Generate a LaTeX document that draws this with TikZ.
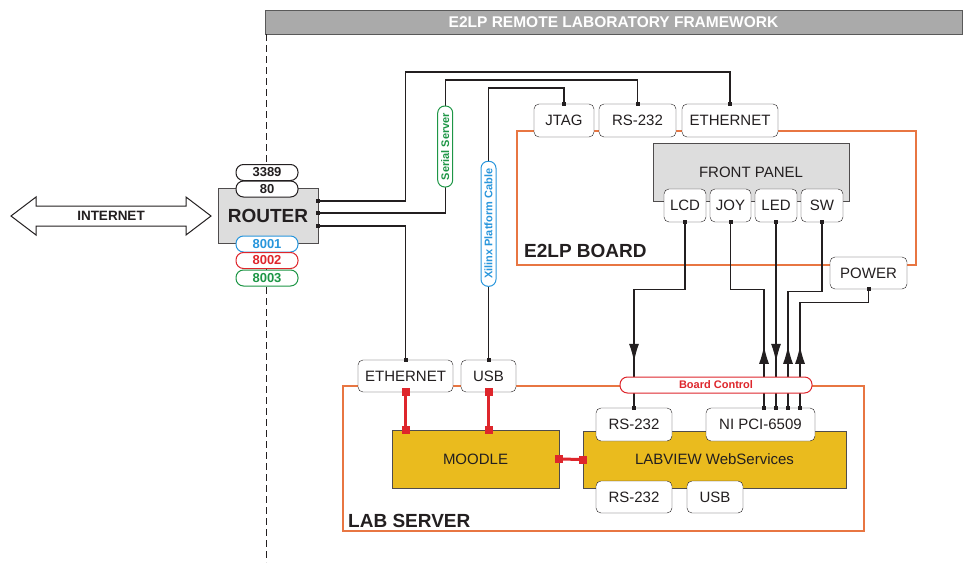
\documentclass[tikz,border=0pt]{standalone}
\usepackage{fontspec}
\setmainfont{Liberation Sans}
\usepackage{tikz}
\usetikzlibrary{positioning, arrows.meta, decorations.markings, calc}

\definecolor{LabOrange}{RGB}{232,118,66}
\definecolor{LabGold}{RGB}{234,187,30}
\definecolor{LabGray}{RGB}{221,221,221}
\definecolor{LabHeader}{RGB}{170,170,170}
\definecolor{LabInk}{RGB}{35,31,32}
\definecolor{PortBlue}{RGB}{40,150,220}
\definecolor{PortRed}{RGB}{222,38,44}
\definecolor{PortGreen}{RGB}{30,150,70}

\newcommand{\pxfont}[1]{\fontsize{#1}{#1}\selectfont}

\begin{document}
\begin{tikzpicture}[x=1pt, y=-1pt,
  box/.style={rectangle, rounded corners=5pt, draw=LabInk, fill=white, text=LabInk, font=\pxfont{15}, inner sep=0pt, minimum height=33pt},
  grayblock/.style={rectangle, draw=LabInk!80, fill=LabGray, text=LabInk, font=\pxfont{15}, inner sep=0pt},
  goldblock/.style={rectangle, draw=LabInk!80, fill=LabGold, text=LabInk, font=\pxfont{15}, inner sep=0pt},
  boardframe/.style={rectangle, draw=LabOrange, line width=2pt, inner sep=0pt},
  framelabel/.style={font=\pxfont{19}\bfseries, text=LabInk, anchor=base west, inner sep=0pt},
  header/.style={rectangle, draw=black!65, fill=LabHeader, text=white, font=\pxfont{15.5}\bfseries, minimum width=697pt, minimum height=24pt, inner sep=0pt},
  portpill/.style={rectangle, rounded corners=7.5pt, draw=#1, fill=white, text=#1, line width=1pt, font=\pxfont{13}\bfseries, inner sep=0pt, minimum width=62pt, minimum height=16pt},
  cablepill/.style={rectangle, rounded corners=7pt, draw=#1, fill=white, text=#1, line width=1pt, font=\pxfont{11}\bfseries, inner sep=0pt, minimum height=15pt, rotate=90},
  ctrlpill/.style={rectangle, rounded corners=7.5pt, draw=PortRed, fill=white, text=PortRed, line width=1pt, font=\pxfont{11}\bfseries, inner sep=0pt, minimum width=192pt, minimum height=16pt},
  wire/.style={line width=1.2pt, draw=LabInk},
  cable/.style={line width=1.8pt, draw=LabInk},
  portsq/.style={rectangle, fill=LabInk, inner sep=0pt, minimum size=4pt},
  redlink/.style={line width=3pt, draw=PortRed},
  redsq/.style={rectangle, fill=PortRed, inner sep=0pt, minimum size=8pt},
  downtip/.style={postaction={decorate}, decoration={markings, mark=at position #1 with {\arrow{Latex[length=18pt,width=10pt]}}}},
  uptip/.style={postaction={decorate}, decoration={markings, mark=at position #1 with {\arrowreversed{Latex[length=18pt,width=10pt]}}}}
]
\useasboundingbox (0,0) rectangle (963,562);

% title bar and divider
\node[header] (title) at (613.5,22) {E2LP REMOTE LABORATORY FRAMEWORK};
\draw[LabInk, line width=0.8pt, dash pattern=on 7pt off 4pt] ([xshift=1.5pt]title.south west) -- ++(0,528);

% internet
\draw[LabInk, line width=1pt, fill=white] (11,216) -- (36,197) -- (36,206) -- (186,206) -- (186,197) -- (211,216)
  -- (186,235) -- (186,226) -- (36,226) -- (36,235) -- cycle;
\node[font=\pxfont{13.5}\bfseries, text=LabInk] (internet) at (111,216) {INTERNET};

% router
\node[grayblock, minimum width=100pt, minimum height=55pt, font=\pxfont{19}\bfseries] (router) at (268,216) {ROUTER};
\node[portpill=LabInk] (p3389) at (267,172.5) {3389};
\node[portpill=LabInk] (p80) at (267,189) {80};
\node[portpill=PortBlue] (p8001) at (267,244) {8001};
\node[portpill=PortRed] (p8002) at (267,260.5) {8002};
\node[portpill=PortGreen] (p8003) at (267,278) {8003};

% E2LP board
\node[boardframe, minimum width=399pt, minimum height=134pt] (board) at (716.5,198) {};
\node[framelabel] at ([xshift=8pt,yshift=9pt]board.south west) {E2LP BOARD};
\node[box, minimum width=60pt] (jtag) at (564,120.5) {JTAG};
\node[box, minimum width=77pt] (bdrs) at (637.5,120.5) {RS-232};
\node[box, minimum width=96pt] (bdeth) at (730,120.5) {ETHERNET};
\node[grayblock, minimum width=196pt, minimum height=58pt] (panel) at (751,172) {FRONT PANEL};
\node[box, minimum width=42pt] (lcd) at (685,205.5) {LCD};
\node[box, minimum width=41pt] (joy) at (730.5,205.5) {JOY};
\node[box, minimum width=42pt] (led) at (776,205.5) {LED};
\node[box, minimum width=42pt] (sw) at (822,205.5) {SW};
\node[box, minimum width=77pt, minimum height=32pt] (power) at (868.5,273) {POWER};

% lab server
\node[boardframe, minimum width=521pt, minimum height=145pt] (lab) at (603.5,458.5) {};
\node[framelabel] at ([xshift=6pt,yshift=5pt]lab.south west) {LAB SERVER};
\node[box, minimum width=95pt, minimum height=32pt] (laneth) at (405.5,376) {ETHERNET};
\node[box, minimum width=55pt, minimum height=32pt] (labusb) at (488.5,376) {USB};
\node[goldblock, minimum width=167pt, minimum height=58pt] (moodle) at (475.5,459) {MOODLE};
\node[goldblock, minimum width=263pt, minimum height=57pt] (labview) at (714.5,459.5) {LABVIEW WebServices};
\node[box, minimum width=76pt] (labrs) at (634,424.5) {RS-232};
\node[box, minimum width=109pt] (nipci) at (760.5,424.5) {NI PCI-6509};
\node[box, minimum width=76pt, minimum height=32pt] (labrs2) at (634,497) {RS-232};
\node[box, minimum width=56pt, minimum height=32pt] (labusb2) at (715,497) {USB};

% router links
\draw[wire] ([yshift=15pt]router.east) node[portsq]{} -| ++(87,-129) -| (bdeth.north) node[portsq]{};
\draw[wire] ([yshift=3pt]router.east) node[portsq]{} -| node[cablepill=PortGreen, minimum width=81pt, pos=0.75]{Serial Server} ++(127,-133)
  -| (bdrs.north) node[portsq]{};
\draw[wire] ([yshift=-10pt]router.east) node[portsq]{} -| (laneth.north) node[portsq]{};
\draw[cable] (labusb.north) node[portsq]{} -- node[cablepill=PortBlue, minimum width=125pt, pos=0.5]{Xilinx Platform Cable} ++(0,-272)
  -| (jtag.north) node[portsq]{};

% front panel to lab server
\draw[wire, downtip=-46pt] (lcd.south) node[portsq]{} -- ++(0,67) -| (labrs.north) node[portsq]{};
\draw[wire, uptip=-62pt] (joy.south) node[portsq]{} -- ++(0,67) -| ([xshift=3.5pt]nipci.north) node[portsq]{};
\draw[wire, downtip=-46pt] (led.south) node[portsq]{} -- (led.south |- nipci.north) node[portsq]{};
\draw[wire, uptip=-62pt] (sw.south) node[portsq]{} -- ++(0,69) -| ([xshift=27.5pt]nipci.north) node[portsq]{};
\draw[wire, uptip=-62pt] (power.south) node[portsq]{} -- ++(0,13) -| ([xshift=39.5pt]nipci.north) node[portsq]{};
\node[ctrlpill] (boardctl) at (716,385) {Board Control};

% server internals
\draw[redlink] (laneth.south) node[redsq]{} -- (laneth.south |- moodle.north) node[redsq]{};
\draw[redlink] (labusb.south) node[redsq]{} -- (labusb.south |- moodle.north) node[redsq]{};
\draw[redlink] (moodle.east) node[redsq]{} -- (labview.west) node[redsq]{};
\end{tikzpicture}
\end{document}
